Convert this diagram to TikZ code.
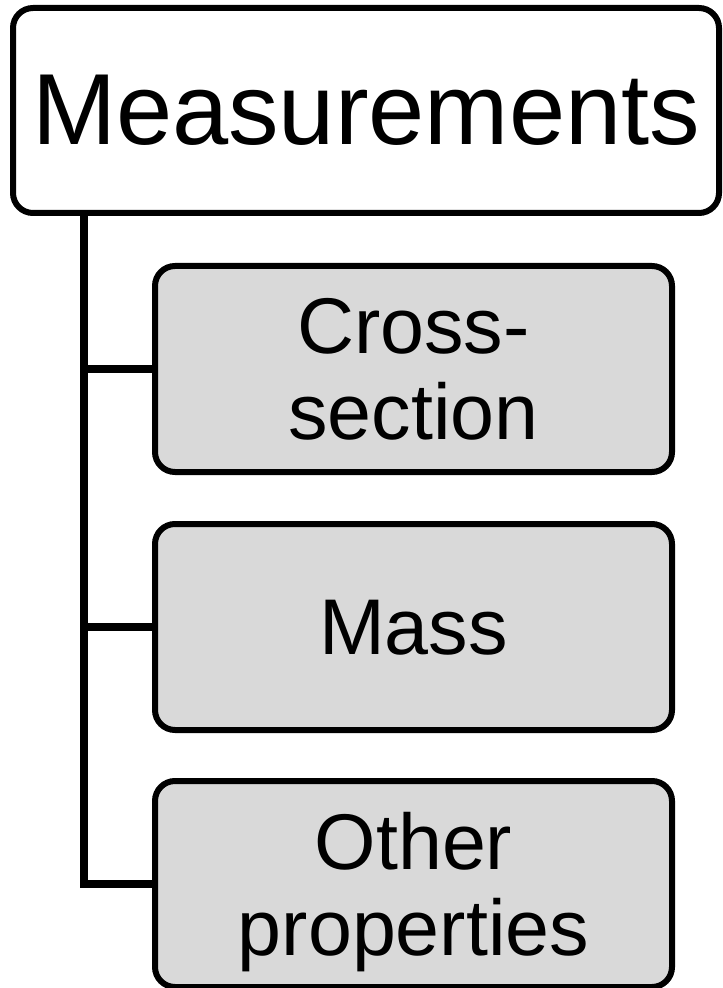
\documentclass[tikz,border=0pt]{standalone}
\usepackage{fontspec}
\setmainfont{Liberation Sans}
\usetikzlibrary{positioning}
\definecolor{leafgray}{HTML}{D9D9D9}
\begin{document}
\begin{tikzpicture}[x=0.5pt,y=-0.5pt,
  root/.style={draw,line width=3pt,rounded corners=10pt,fill=white,minimum width=353pt,minimum height=102.5pt,inner sep=0pt,font=\fontsize{50.5}{55}\selectfont},
  leaf/.style={draw,line width=3pt,rounded corners=10pt,fill=leafgray,minimum width=258.5pt,minimum height=103pt,inner sep=0pt,text depth=0pt,align=center,font=\fontsize{39.5}{43}\selectfont},
  link/.style={line width=4pt}]
  \useasboundingbox (0,0) rectangle (722,988);
  \node[root] (meas) at (366,110.5) {Measurements};

  \node[leaf] (cross) at (413.5,369) {Cross-\\section};
  \node[leaf] (mass)  at (413.5,627) {Mass};
  \node[leaf] (other) at (413.5,884) {Other\\properties};

  \coordinate (spine) at (84,0);
  \draw[link] (spine |- meas.south) |- (other.west);
  \draw[link] (spine |- cross.west) -- (cross.west);
  \draw[link] (spine |- mass.west) -- (mass.west);
\end{tikzpicture}
\end{document}
